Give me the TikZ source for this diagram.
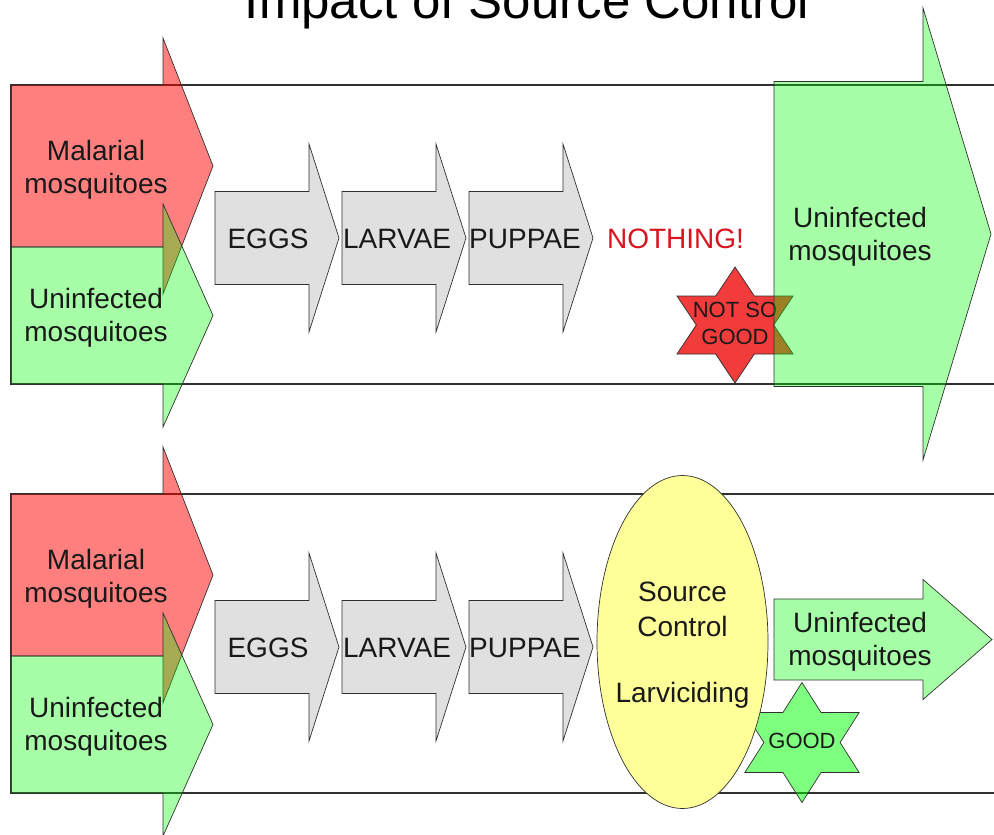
\documentclass[tikz,border=0pt]{standalone}
\usepackage{fontspec}
\setmainfont{Liberation Sans}
\usetikzlibrary{shapes.geometric}
\definecolor{malaria}{HTML}{FF0000}
\definecolor{clean}{HTML}{00FF00}
\definecolor{stage}{HTML}{E0E0E0}
\definecolor{treat}{HTML}{FFFF99}
\definecolor{alarm}{HTML}{F23B3B}
\definecolor{nothing}{HTML}{D81420}
\definecolor{edge}{HTML}{303030}
% body from #2 to #3, tip at #4, centre line #5, half body #6, half head #7
\newcommand{\blockarrow}[7]{\path[#1] (#2,#5-#6) -- (#3,#5-#6) -- (#3,#5-#7) -- (#4,#5) -- (#3,#5+#7) -- (#3,#5+#6) -- (#2,#5+#6) -- cycle;}
\newcommand{\hexstar}[5]{\begin{scope}[shift={(#2,#3)},xscale=#5]
  \path[#1] (90:#4) \foreach \a in {0,60,...,240}{ -- ({120+\a}:{#4/sqrt(3)}) -- ({150+\a}:#4)} -- (60:{#4/sqrt(3)}) -- cycle;
  \end{scope}}
\tikzset{band/.style={draw=edge,line width=1.1pt},
  sick/.style={draw=edge,line width=0.7pt,fill=malaria,fill opacity=0.5},
  well/.style={draw=edge,line width=0.7pt,fill=clean,fill opacity=0.35},
  stagebox/.style={draw=edge,line width=0.7pt,fill=stage},
  lbl/.style={font=\fontsize{28}{33}\selectfont,align=center,text=black!90,inner sep=0pt},
  smalllbl/.style={font=\fontsize{22}{27}\selectfont,align=center,text=black!90,inner sep=0pt}}

\begin{document}
\begin{tikzpicture}[x=1pt,y=-1pt]
\useasboundingbox (0,0) rectangle (994,835);
\clip (0,0) rectangle (994,835);
\node[font=\fontsize{51}{60}\selectfont,anchor=base,inner sep=0pt] (title) at (527,18) {Impact of Source Control};
\foreach \dy/\p in {0/top,409/bot}{
  \draw[band] (11,85+\dy) rectangle (1010,384+\dy);
  \blockarrow{sick}{11}{163}{213}{166+\dy}{81}{128}
  \node[lbl] (mal\p) at (96,169.5+\dy) {Malarial\\mosquitoes};
  \blockarrow{well}{11}{163}{213}{315.5+\dy}{68.5}{111.5}
  \node[lbl] (uninf\p) at (96,317.5+\dy) {Uninfected\\mosquitoes};
  \foreach \i/\name/\cx in {0/EGGS/268,1/LARVAE/397,2/PUPPAE/525}{
    \blockarrow{stagebox}{215+127*\i}{309+127*\i}{339+127*\i}{238+\dy}{46.5}{94}
    \node[lbl,anchor=base] (\name\p) at (\cx,248+\dy) {\name};
  }
}
% without source control
\node[lbl,anchor=base,text=nothing] (nothing) at (675.5,248) {NOTHING!};
\hexstar{draw=edge,line width=0.7pt,fill=alarm}{735}{325}{58}{1.155}
\node[smalllbl] (notgood) at (735,323.8) {NOT SO\\GOOD};
\blockarrow{well}{774}{923}{991}{234}{152.5}{226}
\node[lbl] (uninfOut) at (860,236.5) {Uninfected\\mosquitoes};
% with source control
\hexstar{draw=edge,line width=0.7pt,fill=clean,fill opacity=0.5}{802}{742.5}{60}{1.1}
\node[smalllbl,anchor=base] (good) at (802,748) {GOOD};
\node[ellipse,draw=edge,line width=0.7pt,fill=treat,minimum width=171pt,minimum height=333pt,inner sep=0pt] (ctrl) at (682.5,642) {};
\node[lbl,font=\fontsize{28}{35}\selectfont] (ctrlTxt) at (682.5,645.3) {Source\\Control\\[31pt]Larviciding};
\blockarrow{well}{774}{923}{992}{639.5}{40.5}{60}
\node[lbl] (uninfGood) at (860,641.5) {Uninfected\\mosquitoes};
\end{tikzpicture}
\end{document}
